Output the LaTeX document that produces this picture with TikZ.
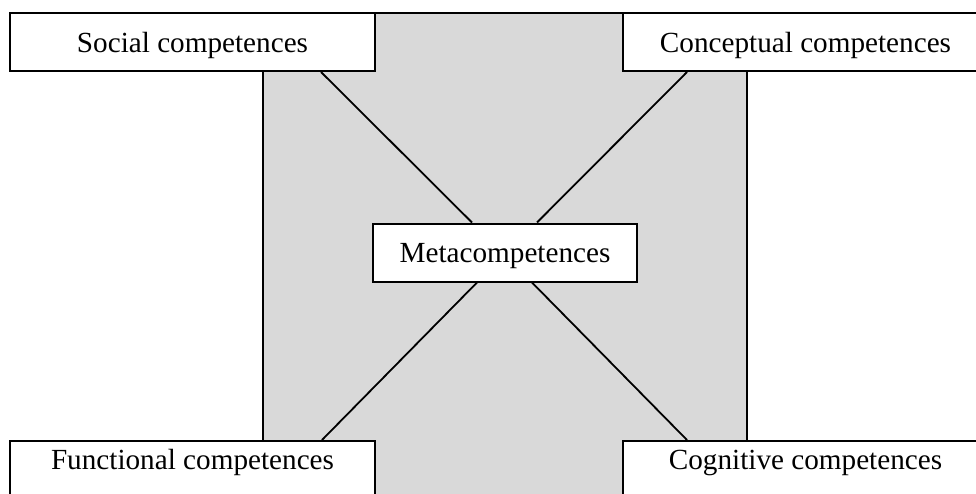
\documentclass[tikz,border=0pt]{standalone}
\usepackage{fontspec}
\setmainfont{Liberation Serif}
\usetikzlibrary{calc}
\definecolor{panelgray}{RGB}{217,217,217}
\begin{document}
\begin{tikzpicture}[x=1pt,y=-1pt,
  compbox/.style={draw,fill=white,line width=2pt,minimum width=365pt,inner ysep=8pt,
    text height=31pt,text depth=11pt,font=\fontsize{29.2}{35}\selectfont},
  lowbox/.style={compbox,anchor=north,text height=20pt,text depth=30pt},
  link/.style={line width=1.8pt}]
  \useasboundingbox (0,0) rectangle (976,493);
  \clip (0,0) rectangle (976,493);
  % grey middle panel
  \draw[fill=panelgray,line width=2pt] (263,13) rectangle (747,520);
  \node[compbox] (social) at (192.5,42) {Social competences};
  \node[compbox] (concept) at (805.5,42) {Conceptual competences};
  \node[lowbox] (func) at (192.5,440) {Functional competences};
  \node[lowbox] (cogn) at (805.5,440) {Cognitive competences};
  \node[compbox,minimum width=264pt] (meta) at (505,252.5) {Metacompetences};
  % links to the centre
  \draw[link] ($(social.south east)+(-55,0)$) -- ($(meta.north)+(-33,0)$);
  \draw[link] ($(concept.south west)+(65,0)$) -- ($(meta.north)+(32,0)$);
  \draw[link] ($(func.north east)+(-54,0)$) -- ($(meta.south)+(-28,0)$);
  \draw[link] ($(cogn.north west)+(65,0)$) -- ($(meta.south)+(27,0)$);
\end{tikzpicture}
\end{document}
